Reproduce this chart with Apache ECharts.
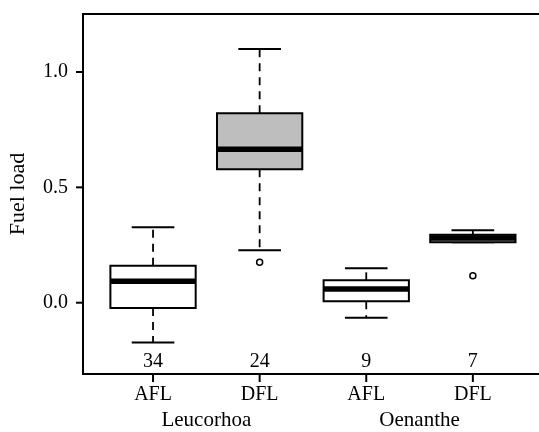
<!DOCTYPE html>
<html>
<head>
<meta charset="utf-8">
<script src="https://cdn.jsdelivr.net/npm/echarts@6/dist/echarts.min.js"></script>
<style>
  html, body { margin: 0; padding: 0; background: #fff; }
  #chart { width: 539px; height: 432px; }
</style>
</head>
<body>
<div id="chart"></div>
<script>
// Fuel load by flight type (AFL / DFL) for two species
const categories = ['AFL', 'DFL', 'AFL', 'DFL'];
const groups = ['Leucorhoa', 'Oenanthe'];
const groupCenters = [1.5, 3.5];
const counts = [34, 24, 9, 7];
const whiskerLow = [-0.172, 0.227, -0.065, 0.262];
const q1 = [-0.023, 0.578, 0.006, 0.262];
const median = [0.093, 0.665, 0.059, 0.280];
const q3 = [0.160, 0.821, 0.097, 0.295];
const whiskerHigh = [0.327, 1.100, 0.149, 0.314];
const outliers = [[2, 0.175], [4, 0.117]];
const xTicks = [1, 2, 3, 4];
const yTicks = [0, 0.5, 1.0];
const boxFills = ['#ffffff', '#bebebe', '#ffffff', '#bebebe'];

const X_MIN = 0.343, X_MAX = 4.658;
const Y_MIN = -0.309, Y_MAX = 1.2514;
const FONT = 'Liberation Serif';
const countLabelY = -0.254;

const boxData = categories.map((c, i) => [xTicks[i], whiskerLow[i], q1[i], median[i], q3[i], whiskerHigh[i], counts[i]]);

function renderBox(params, api) {
  const x = api.value(0);
  const lo = api.value(1), b1 = api.value(2), md = api.value(3), b3 = api.value(4), hi = api.value(5);
  const n = api.value(6);
  const half = 0.4, capHalf = 0.2;
  const pL = api.coord([x - half, md]);
  const pR = api.coord([x + half, md]);
  const p1 = api.coord([x, b1]);
  const p3 = api.coord([x, b3]);
  const pLo = api.coord([x, lo]);
  const pHi = api.coord([x, hi]);
  const cL = api.coord([x - capHalf, lo])[0];
  const cR = api.coord([x + capHalf, lo])[0];
  const pN = api.coord([x, countLabelY]);
  const dashStyle = { stroke: '#000', lineWidth: 1.8, lineDash: [8, 6], fill: null };
  const solid = { stroke: '#000', lineWidth: 2, fill: null };
  const children = [];
  // whiskers (dashed) and caps
  children.push({ type: 'line', shape: { x1: p3[0], y1: p3[1], x2: pHi[0], y2: pHi[1] }, style: dashStyle });
  children.push({ type: 'line', shape: { x1: p1[0], y1: p1[1], x2: pLo[0], y2: pLo[1] }, style: dashStyle });
  children.push({ type: 'line', shape: { x1: cL, y1: pHi[1], x2: cR, y2: pHi[1] }, style: solid });
  children.push({ type: 'line', shape: { x1: cL, y1: pLo[1], x2: cR, y2: pLo[1] }, style: solid });
  // box and median
  children.push({
    type: 'rect',
    shape: { x: pL[0], y: p3[1], width: pR[0] - pL[0], height: p1[1] - p3[1] },
    style: { fill: boxFills[params.dataIndex], stroke: '#000', lineWidth: 2 }
  });
  children.push({ type: 'line', shape: { x1: pL[0], y1: pL[1], x2: pR[0], y2: pR[1] }, style: { stroke: '#000', lineWidth: 5.5 } });
  // sample size
  children.push({
    type: 'text',
    style: { text: String(n), x: pN[0], y: pN[1], align: 'center', verticalAlign: 'middle',
             fill: '#000', fontFamily: FONT, fontSize: 20 }
  });
  return { type: 'group', children: children };
}

const chart = echarts.init(document.getElementById('chart'), null, { renderer: 'canvas' });
chart.setOption({
  animation: false,
  backgroundColor: '#fff',
  grid: {
    left: 83, top: 14, width: 460, height: 360,
    outerBoundsMode: 'none',
    show: true, borderColor: '#000', borderWidth: 2, backgroundColor: 'transparent'
  },
  xAxis: [
    {
      type: 'value', min: X_MIN, max: X_MAX, position: 'bottom',
      axisLine: { show: false, onZero: false },
      splitLine: { show: false },
      axisTick: { show: false },
      axisLabel: { show: true, customValues: xTicks, margin: 11, color: '#000', fontFamily: FONT, fontSize: 20,
                   formatter: v => categories[xTicks.indexOf(v)] }
    },
    {
      type: 'value', min: X_MIN, max: X_MAX, position: 'bottom', offset: 0,
      axisLine: { show: false, onZero: false },
      splitLine: { show: false },
      axisTick: { show: false },
      axisLabel: { show: true, customValues: groupCenters, margin: 36, color: '#000', fontFamily: FONT, fontSize: 21,
                   formatter: v => groups[groupCenters.indexOf(v)] }
    }
  ],
  yAxis: {
    type: 'value', min: Y_MIN, max: Y_MAX,
    name: 'Fuel load', nameLocation: 'middle', nameRotate: 90, nameGap: 54,
    nameTextStyle: { color: '#000', fontFamily: FONT, fontSize: 22 },
    axisLine: { show: false, onZero: false },
    splitLine: { show: false },
    axisTick: { show: false },
    axisLabel: { show: true, customValues: yTicks, margin: 15, color: '#000', fontFamily: FONT, fontSize: 20,
                 formatter: v => v.toFixed(1) }
  },
  series: [
    {
      type: 'custom',
      xAxisIndex: 0,
      renderItem: renderBox,
      data: boxData,
      encode: { x: 0, y: [1, 2, 3, 4, 5] },
      clip: false
    },
    {
      type: 'scatter',
      xAxisIndex: 0,
      data: outliers,
      symbol: 'circle',
      symbolSize: 6,
      itemStyle: { color: '#fff', borderColor: '#000', borderWidth: 1.5, opacity: 1 },
      z: 5
    }
  ]
});

// Tick marks outside the frame, placed through the chart's own scales
const tickStyle = { stroke: '#000', lineWidth: 2 };
const tickGraphics = [];
xTicks.forEach(v => {
  const p = chart.convertToPixel({ seriesIndex: 0 }, [v, Y_MIN]);
  tickGraphics.push({ type: 'line', z: 100, silent: true,
    shape: { x1: p[0], y1: p[1], x2: p[0], y2: p[1] + 8 }, style: tickStyle });
});
yTicks.forEach(v => {
  const p = chart.convertToPixel({ seriesIndex: 0 }, [X_MIN, v]);
  tickGraphics.push({ type: 'line', z: 100, silent: true,
    shape: { x1: p[0] - 7, y1: p[1], x2: p[0], y2: p[1] }, style: tickStyle });
});
chart.setOption({ graphic: tickGraphics });
</script>
</body>
</html>
